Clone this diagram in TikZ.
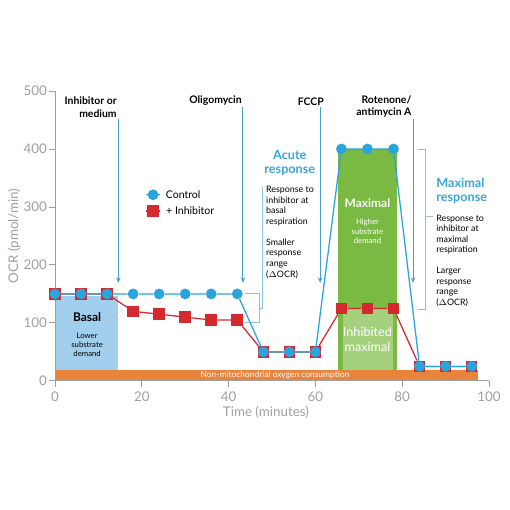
\documentclass[tikz,border=0pt]{standalone}
\usepackage{fontspec}
\setmainfont{Lato}
\usepackage{xcolor}
\usepackage{tikz}
\usetikzlibrary{arrows.meta,positioning}

\definecolor{ctrlblue}{RGB}{42,164,220}
\definecolor{inhred}{RGB}{212,42,47}
\definecolor{arrowteal}{RGB}{74,160,196}
\definecolor{bracketblue}{RGB}{140,196,222}
\definecolor{accent}{RGB}{57,165,216}
\definecolor{nonmito}{RGB}{232,132,60}
\definecolor{maxgreen}{RGB}{123,186,66}
\definecolor{inhgreen}{RGB}{165,208,126}
\definecolor{basalblue}{RGB}{163,207,238}
\definecolor{axisgray}{RGB}{160,160,160}

\begin{document}
\begin{tikzpicture}[x=0.1085cm, y=0.0145cm,
  ctrl/.style={circle, fill=ctrlblue, inner sep=0pt, minimum size=0.27cm},
  inh/.style={rectangle, fill=inhred, inner sep=0pt, minimum size=0.29cm},
  drug/.style={font=\fontsize{7.4}{8.6}\selectfont\bfseries, align=right, anchor=south east, inner sep=1pt},
  inject/.style={draw=arrowteal, line width=0.6pt, -{Stealth[length=4pt,width=3.2pt]}},
  brace/.style={draw=bracketblue, line width=0.6pt},
  accenttxt/.style={font=\fontsize{9}{10}\selectfont\bfseries, text=accent, inner sep=0pt},
  note/.style={font=\fontsize{6.3}{7.5}\selectfont, align=left, anchor=north west, inner sep=0pt},
  ticklbl/.style={font=\fontsize{9.5}{11}\selectfont, text=axisgray, inner sep=0pt}
]
\useasboundingbox (-12.67,-222.4) rectangle (104.84,656.9);

\fill[basalblue] (0,19) rectangle (14.6,146);
\fill[maxgreen] (65.2,19) rectangle (78.8,400);
\fill[inhgreen] (66.4,19) rectangle (77.9,125);
\fill[nonmito] (0,0) rectangle (97.5,19);

\node (basal) [font=\fontsize{8.5}{10}\selectfont\bfseries] at (7.4,110) {Basal};
\node (basalsub) [font=\fontsize{5.5}{6.6}\selectfont, align=center] at (7.4,62) {Lower\\substrate\\demand};
\node (maxlbl) [font=\fontsize{8.5}{10}\selectfont\bfseries, text=white] at (72,307) {Maximal};
\node (maxsub) [font=\fontsize{5.5}{6.6}\selectfont, align=center, text=white] at (72,258) {Higher\\substrate\\demand};
\node (inhmax) [font=\fontsize{9}{10.5}\selectfont, align=center, text=white] at (72,71) {Inhibited\\maximal};
\node (nonmitolbl) [font=\fontsize{6}{7}\selectfont, text=white] at (50.7,9) {Non-mitochondrial oxygen consumption};

\draw[axisgray, line width=0.6pt] (0,500) -- (0,0) -- (100,0);
\foreach \v in {0,100,...,500} {
  \draw[axisgray, line width=0.6pt] (0,\v) -- (-1.3,\v);
  \node (ytick\v) [ticklbl, anchor=east] at (-1.8,\v) {\v};
}
\foreach \t in {0,20,...,100} {
  \draw[axisgray, line width=0.6pt] (\t,0) -- (\t,-10);
  \node (xtick\t) [ticklbl] at (\t,-27.6) {\t};
}
\node (xlabel) [ticklbl] at (48.6,-53.4) {Time (minutes)};
\node (ylabel) [ticklbl, rotate=90] at (-9.4,250) {OCR (pmol/min)};

\node (inhibitor) [drug] at (14.6,452) {Inhibitor or\\medium};
\node (oligo) [drug] at (43.4,472) {Oligomycin};
\node (fccp) [drug] at (62.3,472) {FCCP};
\node (rotenone) [drug] at (82.5,452) {Rotenone/\\antimycin A};
\coordinate (inhibitortop) at (14.6,452);
\coordinate (inhibitortip) at (14.6,169);
\coordinate (oligotop) at (43.3,472);
\coordinate (oligotip) at (43.3,169);
\coordinate (fccptop) at (61.1,472);
\coordinate (fccptip) at (61.1,169);
\coordinate (rotenonetop) at (82.5,452);
\coordinate (rotenonetip) at (82.5,169);
\draw[inject] (inhibitortop) -- (inhibitortip);
\draw[inject] (oligotop) -- (oligotip);
\draw[inject] (fccptop) -- (fccptip);
\draw[inject] (rotenonetop) -- (rotenonetip);

\node (acute) [accenttxt, align=center] at (54.1,375) {Acute\\response};
\node (acutetxt) [note] at (48.6,336) {Response to\\inhibitor at\\basal\\respiration\\[7.5pt]Smaller\\response\\range\\($\Delta$OCR)};
\draw[brace] (43.8,150) -- (47.1,150) -- (47.1,100) -- (43.8,100);
\draw[brace] (47.1,125) -- (47.7,125) -- (47.7,334);

\node (maxresp) [accenttxt, align=left, anchor=west] at (87.8,327) {Maximal\\response};
\node (maxtxt) [note] at (87.8,287) {Response to\\inhibitor at\\maximal\\respiration\\[7.5pt]Larger\\response\\range\\($\Delta$OCR)};
\draw[brace] (83.6,400) -- (85.3,400) -- (85.3,124) -- (83.6,124);
\draw[brace] (85.3,284) -- (87.1,284);

\foreach \n/\t/\v in {1/0/150, 2/6/150, 3/12/150, 4/18/120, 5/24/115, 6/30/110, 7/36/105, 8/42/105,
  9/48/50, 10/54/50, 11/60/50, 12/66/125, 13/72/125, 14/78/125, 15/84/25, 16/90/25, 17/96/25}
  \node (i\n) [inh] at (\t,\v) {};
\draw[inhred, line width=0.9pt] (i1) -- (i2) -- (i3) -- (i4) -- (i5) -- (i6) -- (i7) -- (i8) -- (i9)
  -- (i10) -- (i11) -- (i12) -- (i13) -- (i14) -- (i15) -- (i16) -- (i17);

\foreach \n/\t/\v in {1/0/150, 2/6/150, 3/12/150, 4/18/150, 5/24/150, 6/30/150, 7/36/150, 8/42/150,
  9/48/50, 10/54/50, 11/60/50, 12/66/400, 13/72/400, 14/78/400, 15/84/25, 16/90/25, 17/96/25}
  \node (c\n) [ctrl] at (\t,\v) {};
\draw[ctrlblue, line width=0.9pt] (c1) -- (c2) -- (c3) -- (c4) -- (c5) -- (c6) -- (c7) -- (c8) -- (c9)
  -- (c10) -- (c11) -- (c12) -- (c13) -- (c14) -- (c15) -- (c16) -- (c17);

\coordinate (legc) at (22.6,321);
\coordinate (legi) at (22.6,293);
\draw[ctrlblue, line width=0.9pt] ([xshift=-0.18cm]legc) -- ([xshift=0.18cm]legc);
\draw[inhred, line width=0.9pt] ([xshift=-0.18cm]legi) -- ([xshift=0.18cm]legi);
\node (legcm) [ctrl] at (legc) {};
\node (legim) [inh] at (legi) {};
\node (legctxt) [right=0.17cm of legcm, font=\fontsize{7.5}{9}\selectfont, inner sep=0pt] {Control};
\node (legitxt) [right=0.17cm of legim, font=\fontsize{7.5}{9}\selectfont, inner sep=0pt] {+ Inhibitor};
\end{tikzpicture}
\end{document}
